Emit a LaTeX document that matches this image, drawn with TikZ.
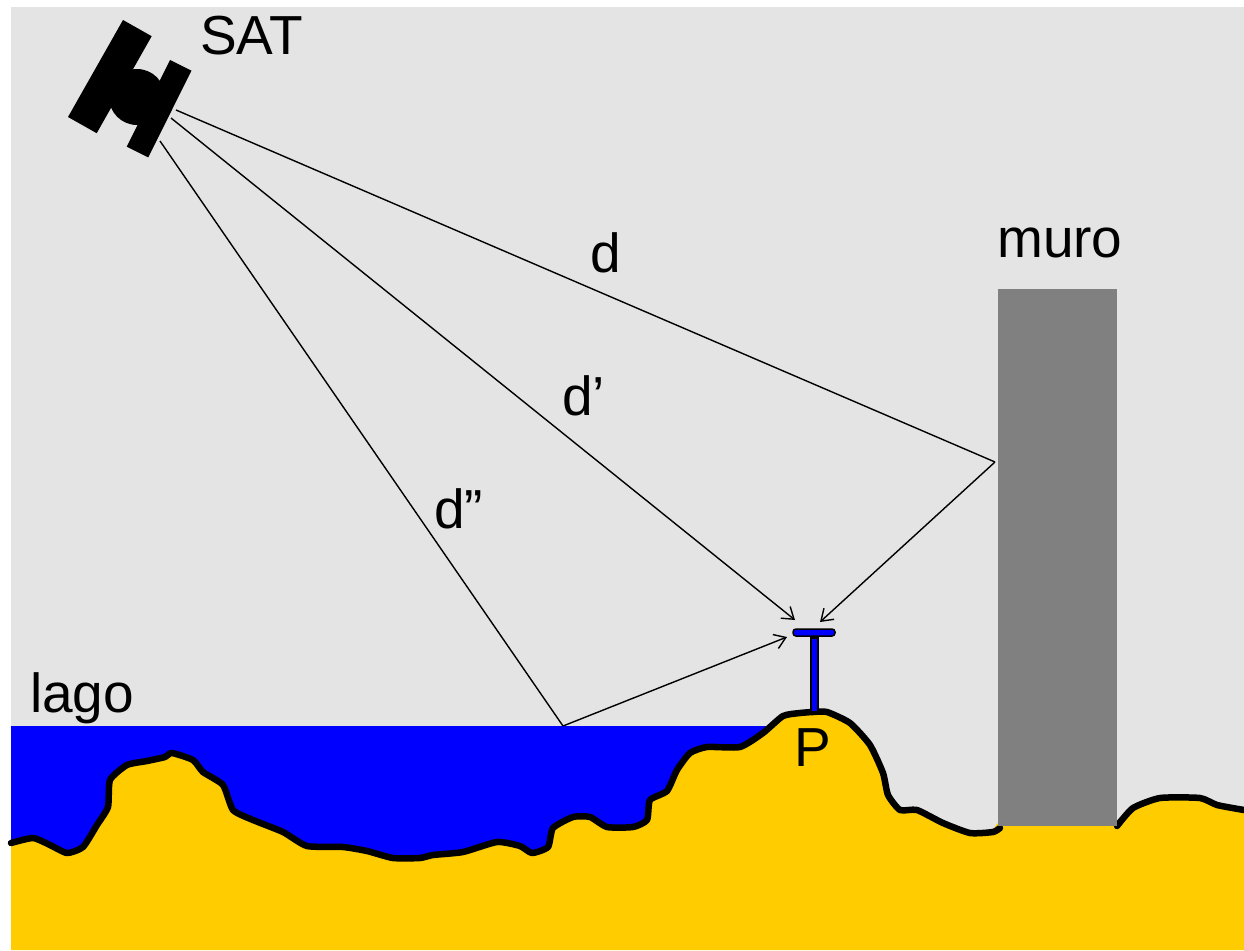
\documentclass[tikz,border=0pt]{standalone}
\usepackage{fontspec}
\setmainfont{Liberation Sans}
\usetikzlibrary{arrows.meta}
\definecolor{sky}{HTML}{E4E4E4}
\definecolor{lake}{HTML}{0000FF}
\definecolor{soil}{HTML}{FFCC00}
\definecolor{wall}{HTML}{808080}
\begin{document}
\begin{tikzpicture}[x=1pt,y=-1pt,
  lbl/.style={anchor=base west,inner sep=0pt,font=\fontsize{55}{60}\selectfont},
  ray/.style={line width=1.4pt},
  rayarrow/.style={ray,-{Straight Barb[length=11pt,width=15pt]}},
  profile/.style={line width=6.5pt,line join=round,line cap=round},
  partblue/.style={draw=black,fill=lake,line width=1.5pt}]
\useasboundingbox (0,0) rectangle (1244,950);
% sky
\fill[sky] (11,7) rectangle (1244,950);
% lake water
\fill[lake] (11,726) rectangle (780,880);
% ground
\fill[soil] (11,950) -- plot[smooth,tension=0.35] coordinates {
 (11,843) (33,838) (50,845) (67,853) (83,847) (97,825) (108,807) (110,780)
 (127,765) (147,761) (165,757) (172,753) (193,760) (203,772) (223,785)
 (233,810) (253,820) (283,832) (307,846) (343,847) (367,851) (393,858)
 (420,858) (433,855) (463,852) (497,842) (520,846) (532,853) (548,847)
 (553,828) (573,817) (590,817) (607,827) (633,827) (647,820) (650,800)
 (667,791) (677,770) (690,753) (707,747) (740,747) (763,733) (783,716)
 (800,713) (813,712) (827,712) (850,723) (870,745) (883,773) (888,795)
 (900,810) (917,810) (943,823) (970,833) (993,832) (1003,822) (1112,822)
 (1133,808) (1160,798) (1200,798) (1217,805) (1244,810)} -- (1244,950) -- cycle;
\draw[profile] plot[smooth,tension=0.35] coordinates {
 (11,843) (33,838) (50,845) (67,853) (83,847) (97,825) (108,807) (110,780)
 (127,765) (147,761) (165,757) (172,753) (193,760) (203,772) (223,785)
 (233,810) (253,820) (283,832) (307,846) (343,847) (367,851) (393,858)
 (420,858) (433,855) (463,852) (497,842) (520,846) (532,853) (548,847)
 (553,828) (573,817) (590,817) (607,827) (633,827) (647,820) (650,800)
 (667,791) (677,770) (690,753) (707,747) (740,747) (763,733) (783,716)
 (800,713) (813,712) (827,712) (850,723) (870,745) (883,773) (888,795)
 (900,810) (917,810) (943,823) (970,833) (993,832) (1000,828)};
\draw[profile] plot[smooth,tension=0.35] coordinates {
 (1117,826) (1133,808) (1160,798) (1200,798) (1217,805) (1244,810)};
% wall
\fill[wall] (998,289) rectangle (1117,826);
% ray end points
\coordinate (s1) at (176,110);
\coordinate (s2) at (171,118);
\coordinate (s3) at (160,141);
\coordinate (wallpt) at (995,462);
\coordinate (lakept) at (563,726);
\coordinate (tipdirect) at (795,620);
\coordinate (tipwall) at (820,622);
\coordinate (tiplake) at (787,637);
% rays
\draw[ray] (s1) -- (wallpt);
\draw[rayarrow] (wallpt) -- (tipwall);
\draw[rayarrow] (s2) -- (tipdirect);
\draw[ray] (s3) -- (lakept);
\draw[rayarrow] (lakept) -- (tiplake);
% receiver antenna
\draw[partblue] (811,638) rectangle (818,712);
\draw[partblue,rounded corners=3pt] (793,629) rectangle (835,636);
% satellite
\fill (123,20) -- (151.7,36.2) -- (96.7,133.2) -- (68,117) -- cycle;
\fill (170,60) -- (191.5,70.7) -- (148.2,157.4) -- (126.7,146.7) -- cycle;
\fill (137,97) circle (28);
% labels
\node[lbl] (satlbl) at (200,55) {SAT};
\node[lbl] (murolbl) at (997,257) {muro};
\node[lbl] (lagolbl) at (30,712) {lago};
\node[lbl] (dlbl) at (590,272) {d};
\node[lbl] (dplbl) at (562,415) {d’};
\node[lbl] (dpplbl) at (434,528) {d”};
\node[lbl] (plbl) at (794,766) {P};
\end{tikzpicture}
\end{document}
